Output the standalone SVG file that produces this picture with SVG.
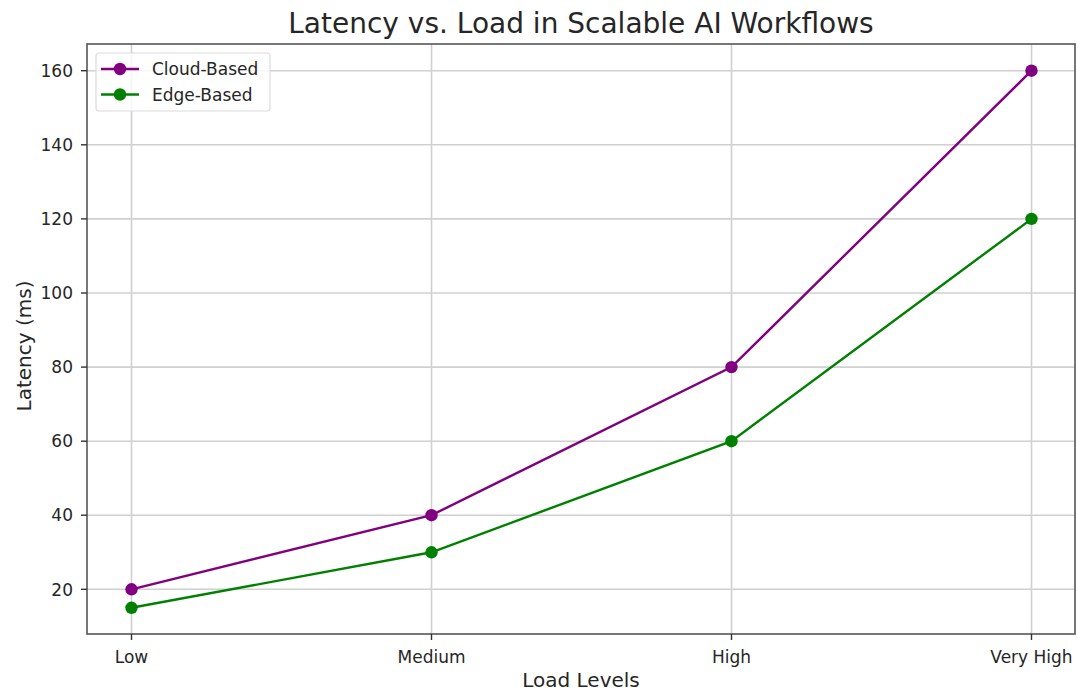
<svg xmlns="http://www.w3.org/2000/svg" width="1078" height="693" viewBox="0 0 1078 693">
  <style>
    text { font-family: "DejaVu Sans", "Liberation Sans", sans-serif; fill: #262626; }
    .tick { font-size: 17px; }
    .grid line { stroke: #d0d0d0; stroke-width: 1.6; }
    .ticks line { stroke: #333; stroke-width: 1.4; }
    .cloud { stroke: #800080; fill: none; stroke-width: 2.4; }
    .edge { stroke: #008000; fill: none; stroke-width: 2.4; }
    .cloudpt { fill: #800080; }
    .edgept { fill: #008000; }
  </style>
  <rect width="1078" height="693" fill="#ffffff"/>

  <!-- grid -->
  <g class="grid">
    <line x1="131.5" y1="44" x2="131.5" y2="634"/>
    <line x1="431.5" y1="44" x2="431.5" y2="634"/>
    <line x1="731.5" y1="44" x2="731.5" y2="634"/>
    <line x1="1031.5" y1="44" x2="1031.5" y2="634"/>
    <line x1="87" y1="589.3" x2="1075" y2="589.3"/>
    <line x1="87" y1="515.2" x2="1075" y2="515.2"/>
    <line x1="87" y1="441.2" x2="1075" y2="441.2"/>
    <line x1="87" y1="367.1" x2="1075" y2="367.1"/>
    <line x1="87" y1="293.0" x2="1075" y2="293.0"/>
    <line x1="87" y1="218.9" x2="1075" y2="218.9"/>
    <line x1="87" y1="144.8" x2="1075" y2="144.8"/>
    <line x1="87" y1="70.7" x2="1075" y2="70.7"/>
  </g>

  <!-- axes frame and ticks -->
  <rect x="87" y="44" width="988" height="590" fill="none" stroke="#555" stroke-width="1.6"/>
  <g class="ticks">
    <line x1="81" y1="589.3" x2="87" y2="589.3"/>
    <line x1="81" y1="515.2" x2="87" y2="515.2"/>
    <line x1="81" y1="441.2" x2="87" y2="441.2"/>
    <line x1="81" y1="367.1" x2="87" y2="367.1"/>
    <line x1="81" y1="293.0" x2="87" y2="293.0"/>
    <line x1="81" y1="218.9" x2="87" y2="218.9"/>
    <line x1="81" y1="144.8" x2="87" y2="144.8"/>
    <line x1="81" y1="70.7" x2="87" y2="70.7"/>
    <line x1="131.5" y1="634" x2="131.5" y2="640"/>
    <line x1="431.5" y1="634" x2="431.5" y2="640"/>
    <line x1="731.5" y1="634" x2="731.5" y2="640"/>
    <line x1="1031.5" y1="634" x2="1031.5" y2="640"/>
  </g>

  <!-- y tick labels -->
  <g class="tick" text-anchor="end">
    <text x="73" y="595.5">20</text>
    <text x="73" y="521.4">40</text>
    <text x="73" y="447.4">60</text>
    <text x="73" y="373.3">80</text>
    <text x="73" y="299.2">100</text>
    <text x="73" y="225.1">120</text>
    <text x="73" y="151.0">140</text>
    <text x="73" y="76.9">160</text>
  </g>

  <!-- x tick labels -->
  <g class="tick" text-anchor="middle">
    <text x="131.5" y="663">Low</text>
    <text x="431.5" y="663">Medium</text>
    <text x="731.5" y="663">High</text>
    <text x="1031.5" y="663">Very High</text>
  </g>

  <!-- titles -->
  <text x="581" y="33" font-size="28" text-anchor="middle">Latency vs. Load in Scalable AI Workflows</text>
  <text x="581" y="687" font-size="20" text-anchor="middle">Load Levels</text>
  <text x="31" y="346" font-size="20" text-anchor="middle" transform="rotate(-90 31 346)">Latency (ms)</text>

  <!-- series -->
  <g id="series-cloud">
    <polyline class="cloud" points="131.5,589.3 431.5,515.2 731.5,367.1 1031.5,70.7"/>
    <circle class="cloudpt" cx="131.5" cy="589.3" r="6.2"/>
    <circle class="cloudpt" cx="431.5" cy="515.2" r="6.2"/>
    <circle class="cloudpt" cx="731.5" cy="367.1" r="6.2"/>
    <circle class="cloudpt" cx="1031.5" cy="70.7" r="6.2"/>
  </g>
  <g id="series-edge">
    <polyline class="edge" points="131.5,607.8 431.5,552.3 731.5,441.2 1031.5,218.9"/>
    <circle class="edgept" cx="131.5" cy="607.8" r="6.2"/>
    <circle class="edgept" cx="431.5" cy="552.3" r="6.2"/>
    <circle class="edgept" cx="731.5" cy="441.2" r="6.2"/>
    <circle class="edgept" cx="1031.5" cy="218.9" r="6.2"/>
  </g>

  <!-- legend -->
  <g id="legend">
    <rect x="96" y="53" width="174" height="58" rx="3" fill="#ffffff" fill-opacity="0.8" stroke="#dcdcdc" stroke-width="1.2"/>
    <line class="cloud" x1="101" y1="69" x2="139" y2="69"/>
    <circle class="cloudpt" cx="120" cy="69" r="6.2"/>
    <text x="152" y="75" class="tick">Cloud-Based</text>
    <line class="edge" x1="101" y1="94.5" x2="139" y2="94.5"/>
    <circle class="edgept" cx="120" cy="94.5" r="6.2"/>
    <text x="152" y="100.5" class="tick">Edge-Based</text>
  </g>
</svg>
